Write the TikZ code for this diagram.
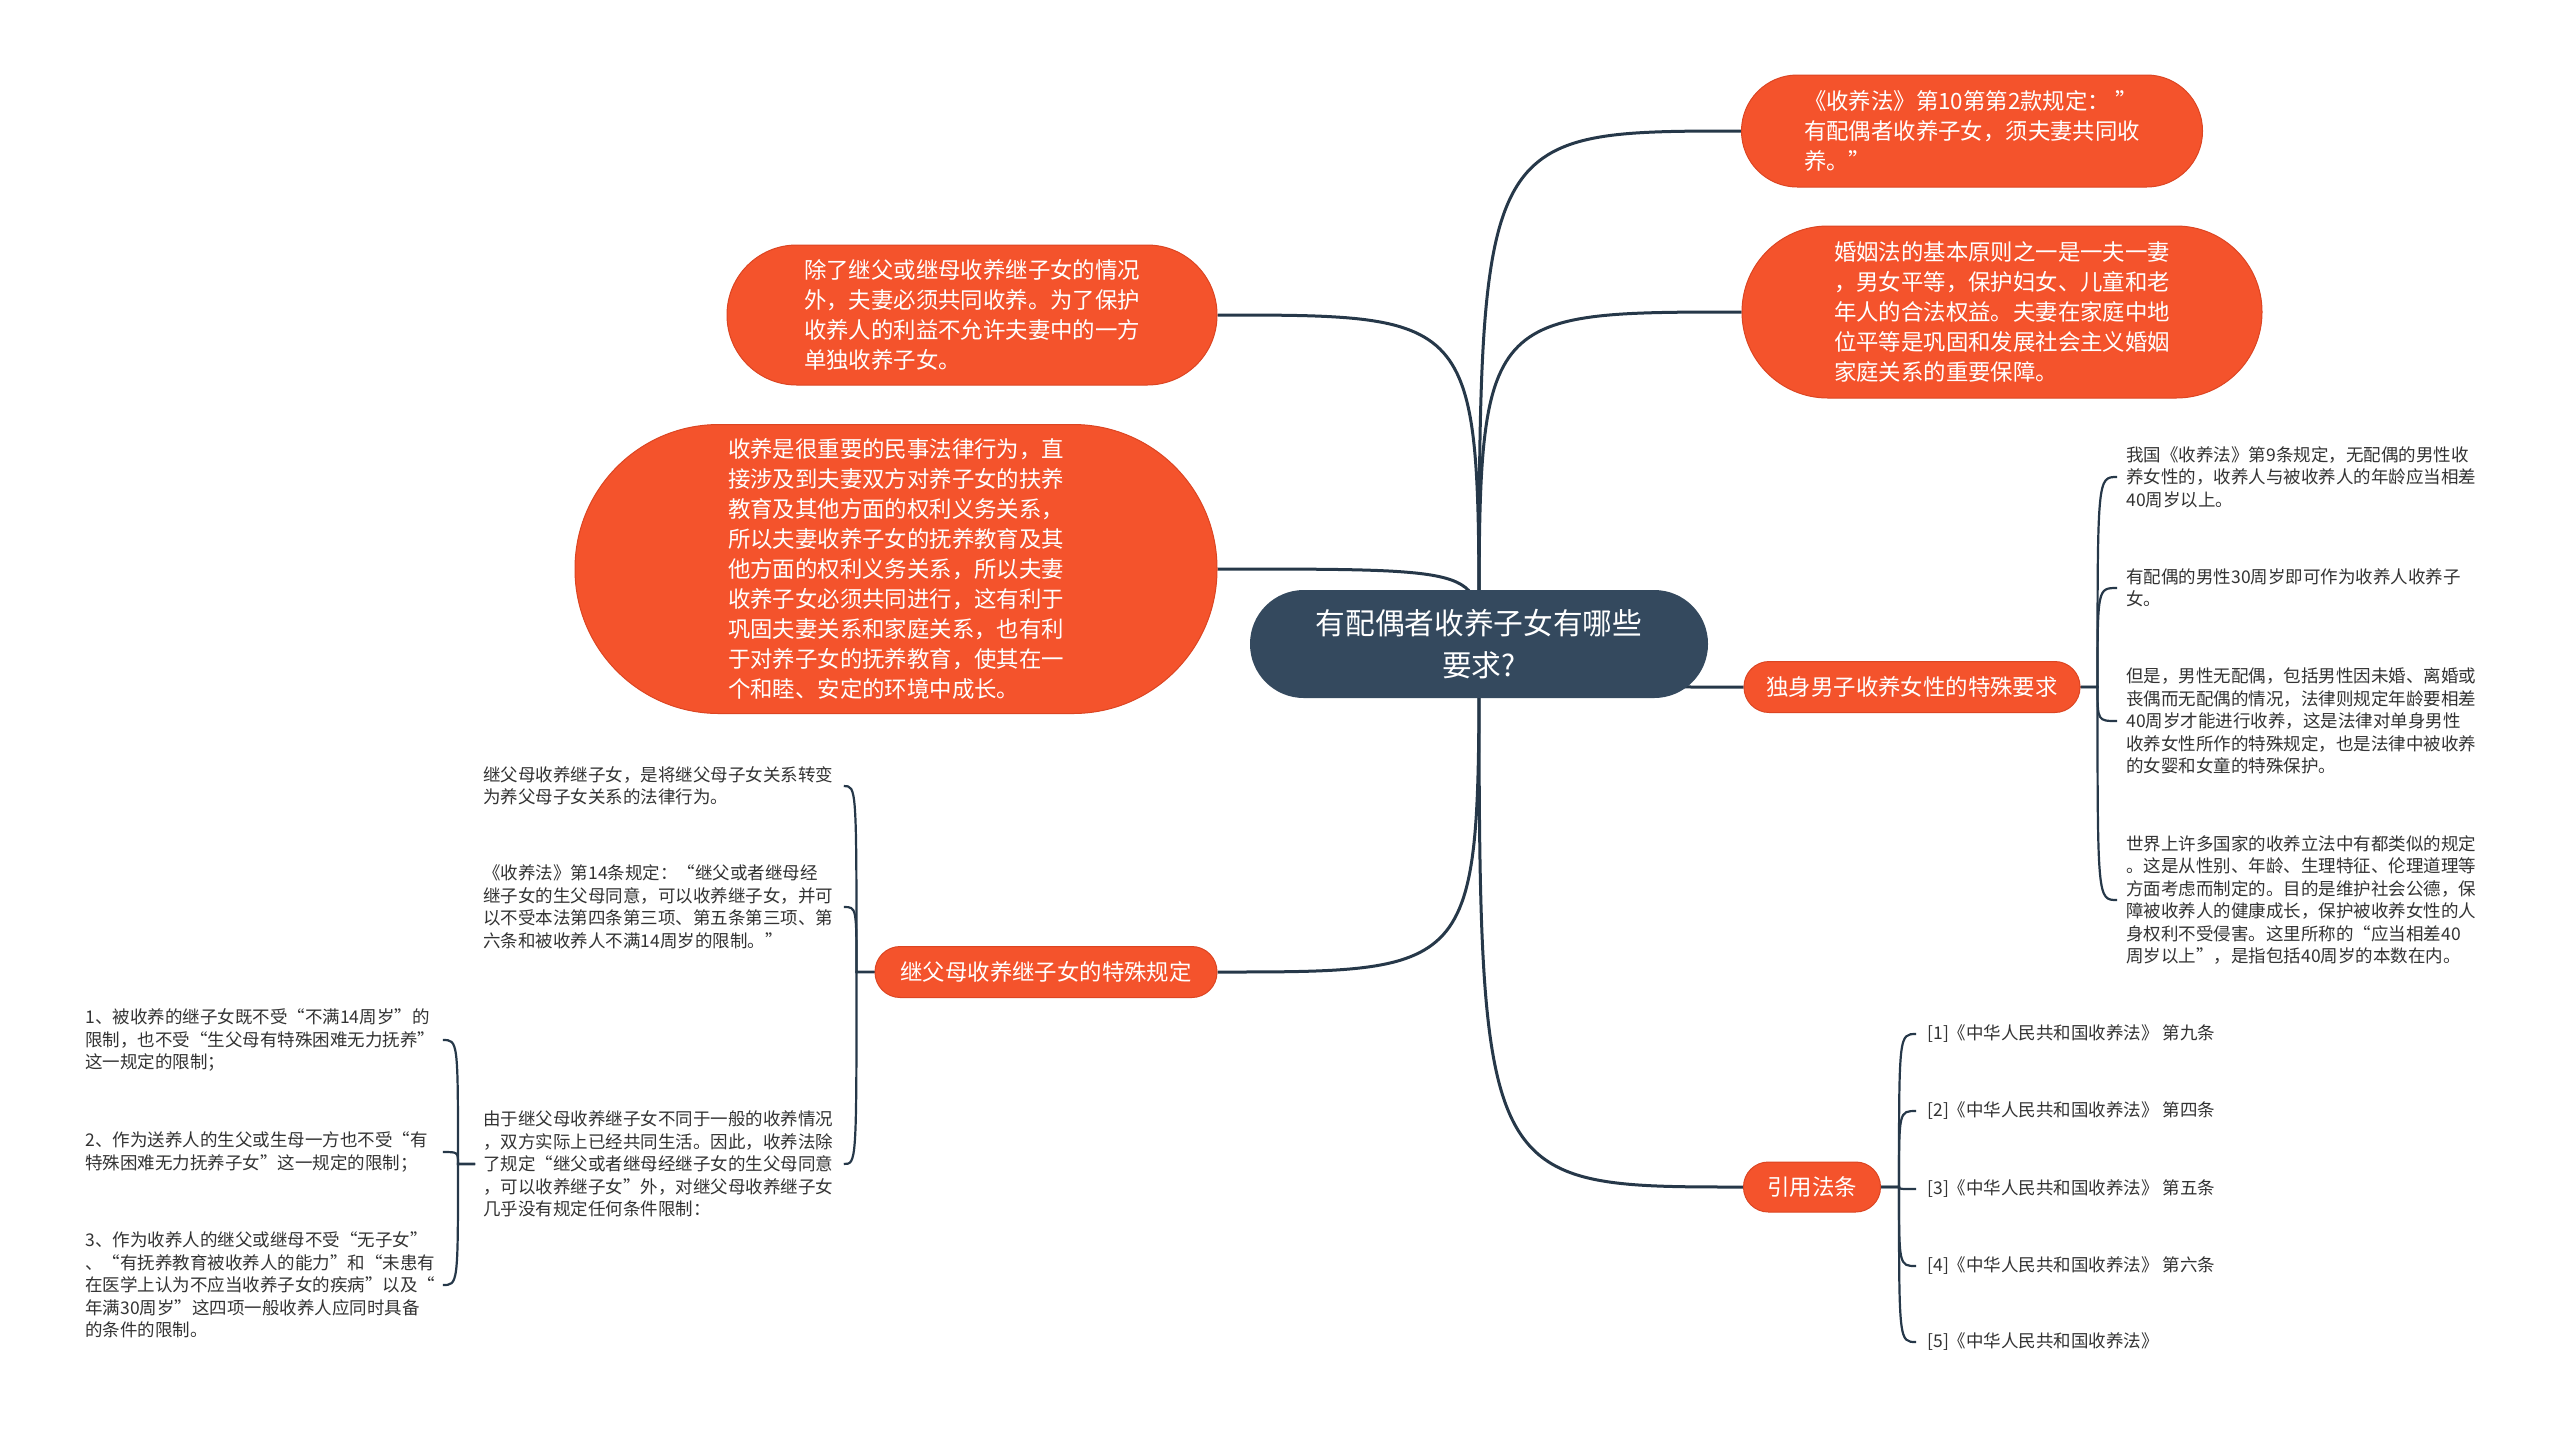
\documentclass[tikz,border=0pt]{standalone}
\usepackage{fontspec}
\setmainfont{Noto Sans CJK SC}
\usetikzlibrary{backgrounds,calc}
\definecolor{orng}{HTML}{F4532C}
\definecolor{orngd}{HTML}{DC4522}
\definecolor{slate}{HTML}{34495E}
\definecolor{linec}{HTML}{263849}
\definecolor{leaft}{HTML}{333333}
\tikzset{
  pill/.style={fill=orng, draw=orngd, line width=0.5pt, text=white, inner sep=0pt, align=left,
    font=\fontsize{11.2pt}{15pt}\selectfont},
  centre/.style={fill=slate, text=white, inner sep=0pt, align=center,
    font=\fontsize{14.85pt}{21pt}\selectfont, minimum width=229pt, minimum height=54pt, rounded corners=26.9pt},
  leaf/.style={inner sep=0pt, align=left, text=leaft, anchor=west,
    font=\fontsize{8.75pt}{11.25pt}\selectfont},
  mainline/.style={draw=linec, line width=1.5pt},
  leafline/.style={draw=linec, line width=1.1pt},
}
\begin{document}
\begin{tikzpicture}[x=0.5pt, y=-0.5pt]
\useasboundingbox (0,0) rectangle (2560,1437);

% central topic
\node[centre] (c) at (1479,644) {有配偶者收养子女有哪些\\要求?};

% main branches
\node[pill, minimum width=230.5pt, minimum height=56pt, rounded corners=27.9pt] (n1) at (1972,131)
  {《收养法》第10第第2款规定：\ ”\\有配偶者收养子女，须夫妻共同收\\养。”};
\node[pill, minimum width=260pt, minimum height=86pt, rounded corners=42.9pt] (n2) at (2002,312)
  {婚姻法的基本原则之一是一夫一妻\\，男女平等，保护妇女、儿童和老\\年人的合法权益。夫妻在家庭中地\\位平等是巩固和发展社会主义婚姻\\家庭关系的重要保障。};
\node[pill, minimum width=245pt, minimum height=70pt, rounded corners=34.9pt] (n3) at (972,315)
  {除了继父或继母收养继子女的情况\\外，夫妻必须共同收养。为了保护\\收养人的利益不允许夫妻中的一方\\单独收养子女。};
\node[pill, minimum width=321pt, minimum height=144.5pt, rounded corners=72pt] (n4) at (896,569)
  {收养是很重要的民事法律行为，直\\接涉及到夫妻双方对养子女的扶养\\教育及其他方面的权利义务关系，\\所以夫妻收养子女的抚养教育及其\\他方面的权利义务关系，所以夫妻\\收养子女必须共同进行，这有利于\\巩固夫妻关系和家庭关系，也有利\\于对养子女的抚养教育，使其在一\\个和睦、安定的环境中成长。};
\node[pill, align=center, minimum width=168pt, minimum height=25.5pt, rounded corners=12.6pt] (n5) at (1912,687)
  {独身男子收养女性的特殊要求};
\node[pill, align=center, minimum width=68.5pt, minimum height=25pt, rounded corners=12.4pt] (n6) at (1812,1187)
  {引用法条};
\node[pill, align=center, minimum width=171pt, minimum height=25.5pt, rounded corners=12.6pt] (n7) at (1046,972)
  {继父母收养继子女的特殊规定};

% leaves of n5
\node[leaf, text width=178pt] (r1) at (2126,477)
  {我国《收养法》第9条规定，无配偶的男性收\\养女性的，收养人与被收养人的年龄应当相差\\40周岁以上。};
\node[leaf, text width=178pt] (r2) at (2126,588)
  {有配偶的男性30周岁即可作为收养人收养子\\女。};
\node[leaf, text width=178pt] (r3) at (2126,721)
  {但是，男性无配偶，包括男性因未婚、离婚或\\丧偶而无配偶的情况，法律则规定年龄要相差\\40周岁才能进行收养，这是法律对单身男性\\收养女性所作的特殊规定，也是法律中被收养\\的女婴和女童的特殊保护。};
\node[leaf, text width=178pt] (r4) at (2126,900)
  {世界上许多国家的收养立法中有都类似的规定\\。这是从性别、年龄、生理特征、伦理道理等\\方面考虑而制定的。目的是维护社会公德，保\\障被收养人的健康成长，保护被收养女性的人\\身权利不受侵害。这里所称的“应当相差40\\周岁以上”，是指包括40周岁的本数在内。};

% leaves of n6
\node[leaf] (f1) at (1927,1034) {[1]《中华人民共和国收养法》 第九条};
\node[leaf] (f2) at (1927,1111) {[2]《中华人民共和国收养法》 第四条};
\node[leaf] (f3) at (1927,1189) {[3]《中华人民共和国收养法》 第五条};
\node[leaf] (f4) at (1927,1266) {[4]《中华人民共和国收养法》 第六条};
\node[leaf] (f5) at (1927,1342) {[5]《中华人民共和国收养法》};

% leaves of n7
\node[leaf, text width=176pt] (la) at (483,786)
  {继父母收养继子女，是将继父母子女关系转变\\为养父母子女关系的法律行为。};
\node[leaf, text width=176pt] (lb) at (483,907)
  {《收养法》第14条规定：“继父或者继母经\\继子女的生父母同意，可以收养继子女，并可\\以不受本法第四条第三项、第五条第三项、第\\六条和被收养人不满14周岁的限制。”};
\node[leaf, text width=176pt] (lc) at (483,1164)
  {由于继父母收养继子女不同于一般的收养情况\\，双方实际上已经共同生活。因此，收养法除\\了规定“继父或者继母经继子女的生父母同意\\，可以收养继子女”外，对继父母收养继子女\\几乎没有规定任何条件限制：};

% leaves of lc
\node[leaf, text width=174pt] (s1) at (85,1040)
  {1、被收养的继子女既不受“不满14周岁”的\\限制，也不受“生父母有特殊困难无力抚养”\\这一规定的限制；};
\node[leaf, text width=174pt] (s2) at (85,1152)
  {2、作为送养人的生父或生母一方也不受“有\\特殊困难无力抚养子女”这一规定的限制；};
\node[leaf, text width=174pt] (s3) at (85,1285)
  {3、作为收养人的继父或继母不受“无子女”\\、“有抚养教育被收养人的能力”和“未患有\\在医学上认为不应当收养子女的疾病”以及“\\年满30周岁”这四项一般收养人应同时具备\\的条件的限制。};

\begin{scope}[on background layer]
  \fill[white] (0,0) rectangle (2560,1437);
  % main connectors
  \foreach \n in {n1,n2,n5,n6}
    \draw[mainline] (c.center) .. controls (c.center |- \n.west) .. (\n.west);
  \foreach \n in {n3,n4,n7}
    \draw[mainline] (c.center) .. controls (c.center |- \n.east) .. (\n.east);
  % n5 leaves
  \coordinate (t5) at ([xshift=8.5pt]n5.east);
  \foreach \l in {r1,r2,r3,r4}
    \draw[leafline] (n5.east) -- (t5) .. controls (t5 |- \l.west) .. ([xshift=-4.5pt]\l.west);
  % n6 leaves
  \coordinate (t6) at ([xshift=9pt]n6.east);
  \foreach \l in {f1,f2,f3,f4,f5}
    \draw[leafline] (n6.east) -- (t6) .. controls (t6 |- \l.west) .. ([xshift=-5.5pt]\l.west);
  % n7 leaves
  \coordinate (t7) at ([xshift=-9pt]n7.west);
  \foreach \l in {la,lb,lc}
    \draw[leafline] (n7.west) -- (t7) .. controls (t7 |- \l.east) .. ([xshift=4pt]\l.east);
  % lc leaves
  \coordinate (lcs) at ([xshift=-4pt]lc.west);
  \coordinate (tc) at ([xshift=-12.5pt]lc.west);
  \foreach \l in {s1,s2,s3}
    \draw[leafline] (lcs) -- (tc) .. controls (tc |- \l.east) .. ([xshift=4.5pt]\l.east);
\end{scope}
\end{tikzpicture}
\end{document}
